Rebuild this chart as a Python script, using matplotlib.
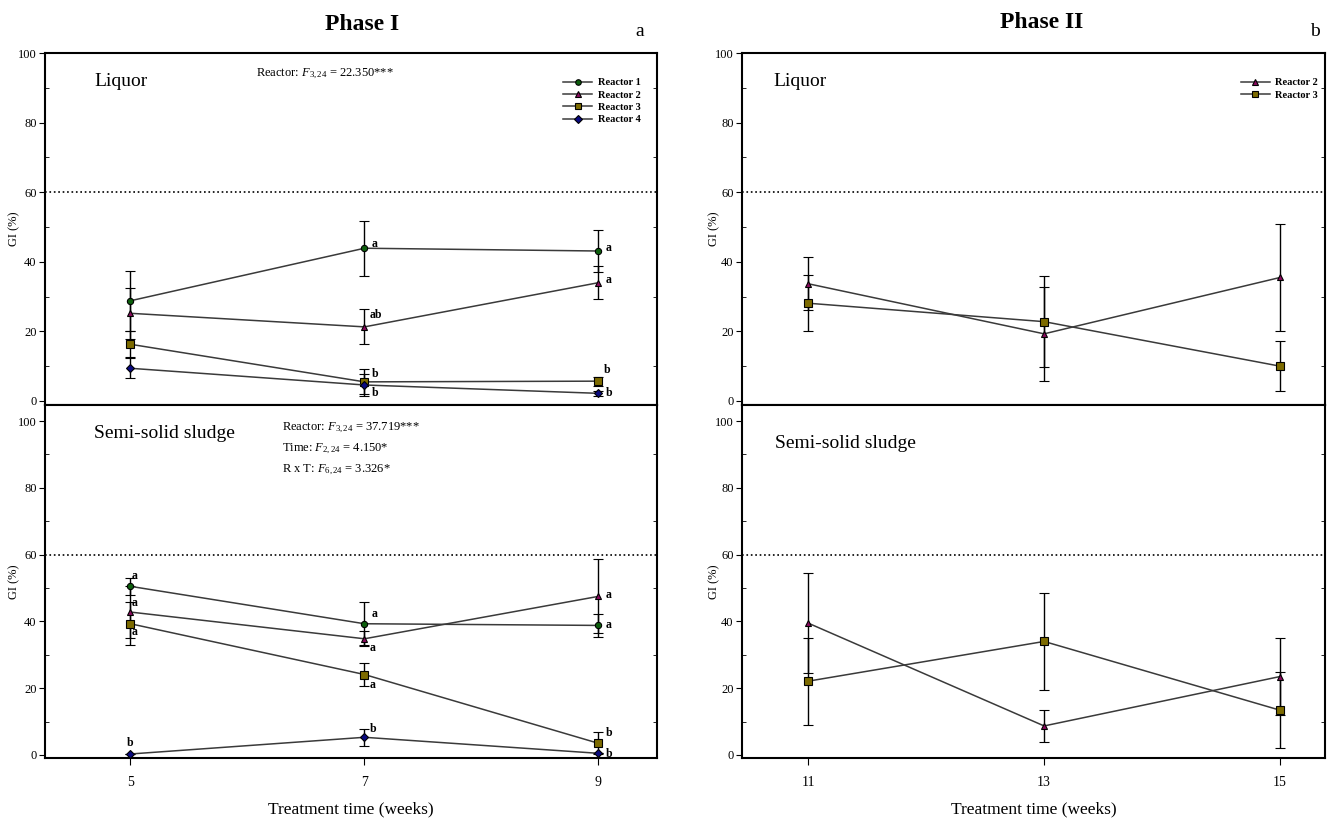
import matplotlib
matplotlib.use('Agg')
import matplotlib.pyplot as plt
from matplotlib.lines import Line2D
from matplotlib.ticker import MultipleLocator

plt.rcParams['font.family'] = ['Liberation Serif', 'DejaVu Serif']
plt.rcParams['mathtext.fontset'] = 'custom'
plt.rcParams['mathtext.it'] = 'Liberation Serif:italic'
plt.rcParams['mathtext.rm'] = 'Liberation Serif'

# ---- data ----
weeks1 = [5, 7, 9]
weeks2 = [11, 13, 15]
names = ['Reactor 1', 'Reactor 2', 'Reactor 3', 'Reactor 4']

# Phase I, liquor
liq1_mean = [[28.8, 43.9, 43.1], [25.2, 21.3, 34.0], [16.3, 5.5, 5.7], [9.4, 4.6, 2.2]]
liq1_err = [[8.6, 7.9, 6.0], [7.4, 5.0, 4.8], [3.8, 3.6, 1.3], [2.9, 3.1, 0.8]]
liq1_let = [['', 'a', 'a'], ['', 'ab', 'a'], ['', 'b', 'b'], ['', 'b', 'b']]

# Phase I, semi-solid sludge
sl1_mean = [[50.5, 39.3, 38.8], [42.8, 34.8, 47.5], [39.3, 24.1, 3.5], [0.3, 5.3, 0.5]]
sl1_err = [[2.5, 6.5, 3.5], [7.8, 2.3, 11.1], [6.5, 3.4, 3.3], [0.0, 2.5, 0.0]]
sl1_let = [['a', 'a', 'a'], ['a', 'a', 'a'], ['a', 'a', 'b'], ['b', 'b', 'b']]

# Phase II (reactors 2 and 3)
liq2_mean = [[33.7, 19.3, 35.5], [28.1, 22.8, 10.0]]
liq2_err = [[7.6, 13.5, 15.5], [8.0, 13.0, 7.2]]
sl2_mean = [[39.5, 8.7, 23.5], [22.1, 34.0, 13.4]]
sl2_err = [[15.0, 4.9, 11.6], [13.0, 14.4, 11.4]]

# styles
markers = ['o', '^', 's', 'D']
mcolors = ['#0b5e0b', '#8a0a5e', '#7d6b00', '#0a0a80']
msizes = [4.5, 5, 5.5, 4.5]

# letter offsets (pixels) per reactor / week
liq1_off = [[(0, 0), (7, 4), (7, 3)], [(0, 0), (5, 12), (7, 3)],
            [(0, 0), (7, 8), (5, 11)], [(0, 0), (7, -8), (7, 0)]]
sl1_off = [[(4, 10), (7, 10), (7, 0)], [(4, 9), (5, -9), (7, 1)],
           [(4, -8), (5, -10), (7, 10)], [(0, 11), (5, 8), (7, -1)]]

W, H = 1327, 823
fig = plt.figure(figsize=(W / 100, H / 100), dpi=100)


def make_ax(x0, x1, y0, y1, xlim, ylim):
    ax = fig.add_axes([x0 / W, 1 - y1 / H, (x1 - x0) / W, (y1 - y0) / H])
    ax.set_xlim(*xlim)
    ax.set_ylim(*ylim)
    ax.yaxis.set_major_locator(MultipleLocator(20))
    ax.yaxis.set_minor_locator(MultipleLocator(10))
    ax.tick_params(axis='y', which='major', direction='out', length=4, labelsize=9, pad=2)
    ax.tick_params(axis='y', which='minor', direction='in', length=3, right=True)
    ax.tick_params(axis='x', which='major', direction='out', length=5, labelsize=10, pad=8)
    for s in ax.spines.values():
        s.set_linewidth(1.5)
    ax.axhline(60, color='black', ls=':', lw=1.2)
    ax.set_ylabel('GI (%)', fontsize=9)
    ax.yaxis.set_label_coords(-(x0 - 20) / (x1 - x0), 0.5)
    return ax


axL1 = make_ax(45, 657, 53, 405, (4.27, 9.5), (-1.15, 100))
axL2 = make_ax(45, 657, 405, 758, (4.27, 9.5), (-0.9, 104.8))
axR1 = make_ax(742, 1325, 53, 405, (10.44, 15.38), (-1.15, 100))
axR2 = make_ax(742, 1325, 405, 758, (10.44, 15.38), (-0.9, 104.8))
axR1.yaxis.set_label_coords(-22 / 583, 0.5)
axR2.yaxis.set_label_coords(-22 / 583, 0.5)

for ax in (axL1, axR1):
    ax.set_xticks([])
axL2.set_xticks(weeks1)
axR2.set_xticks(weeks2)
axL2.set_xlabel('Treatment time (weeks)', fontsize=12.5, labelpad=9)
axR2.set_xlabel('Treatment time (weeks)', fontsize=12.5, labelpad=9)


def draw(ax, x, means, errs, idx):
    for k, i in enumerate(idx):
        ax.errorbar(x, means[k], yerr=errs[k], color='#3a3a3a', lw=1.1,
                    marker=markers[i], ms=msizes[i], mfc=mcolors[i], mec='black',
                    mew=0.8, ecolor='black', elinewidth=1, capsize=3.5, capthick=1,
                    zorder=3)


def letters(ax, x, means, lets, offs):
    for i in range(len(means)):
        for j in range(len(x)):
            if lets[i][j]:
                ax.annotate(lets[i][j], (x[j], means[i][j]), xytext=offs[i][j],
                            textcoords='offset pixels', fontsize=8.5, fontweight='bold',
                            ha='center' if offs[i][j][0] < 5 else 'left', va='center')


def legend(ax, idx, anchor):
    handles = [Line2D([], [], color='#3a3a3a', lw=1.1, marker=markers[i], ms=msizes[i] - 0.5,
                      mfc=mcolors[i], mec='black', mew=0.8) for i in idx]
    ax.legend(handles, [names[i] for i in idx], loc='upper right', bbox_to_anchor=anchor,
              frameon=False, prop={'size': 7.5, 'weight': 'bold'}, handlelength=2.8,
              labelspacing=0.3, handletextpad=0.5, borderaxespad=0.3)


draw(axL1, weeks1, liq1_mean, liq1_err, [0, 1, 2, 3])
draw(axL2, weeks1, sl1_mean, sl1_err, [0, 1, 2, 3])
draw(axR1, weeks2, liq2_mean, liq2_err, [1, 2])
draw(axR2, weeks2, sl2_mean, sl2_err, [1, 2])
letters(axL1, weeks1, liq1_mean, liq1_let, liq1_off)
letters(axL2, weeks1, sl1_mean, sl1_let, sl1_off)
legend(axL1, [0, 1, 2, 3], (0.985, 0.95))
legend(axR1, [1, 2], (1.0, 0.95))

# panel labels
axL1.text(0.08, 0.92, 'Liquor', transform=axL1.transAxes, fontsize=14, va='center')
axR1.text(0.053, 0.92, 'Liquor', transform=axR1.transAxes, fontsize=14, va='center')
axL2.text(0.08, 0.92, 'Semi-solid sludge', transform=axL2.transAxes, fontsize=14, va='center')
axR2.text(0.057, 0.89, 'Semi-solid sludge', transform=axR2.transAxes, fontsize=14, va='center')

# statistics
axL1.text(0.345, 0.94, r'Reactor: $F_{3,24}$ = 22.350***', transform=axL1.transAxes,
          fontsize=9, va='center')
axL2.text(0.388, 0.935, r'Reactor: $F_{3,24}$ = 37.719***', transform=axL2.transAxes,
          fontsize=9, va='center')
axL2.text(0.388, 0.875, r'Time: $F_{2,24}$ = 4.150*', transform=axL2.transAxes,
          fontsize=9, va='center')
axL2.text(0.388, 0.815, r'R x T: $F_{6,24}$ = 3.326*', transform=axL2.transAxes,
          fontsize=9, va='center')

fig.text(362 / W, 1 - 25 / H, 'Phase I', fontsize=17, fontweight='bold', ha='center', va='center')
fig.text(1042 / W, 1 - 22 / H, 'Phase II', fontsize=17, fontweight='bold', ha='center', va='center')
fig.text(640 / W, 1 - 32 / H, 'a', fontsize=14, ha='center', va='center')
fig.text(1315 / W, 1 - 32 / H, 'b', fontsize=14, ha='center', va='center')

fig.savefig('out.png', dpi=100)
